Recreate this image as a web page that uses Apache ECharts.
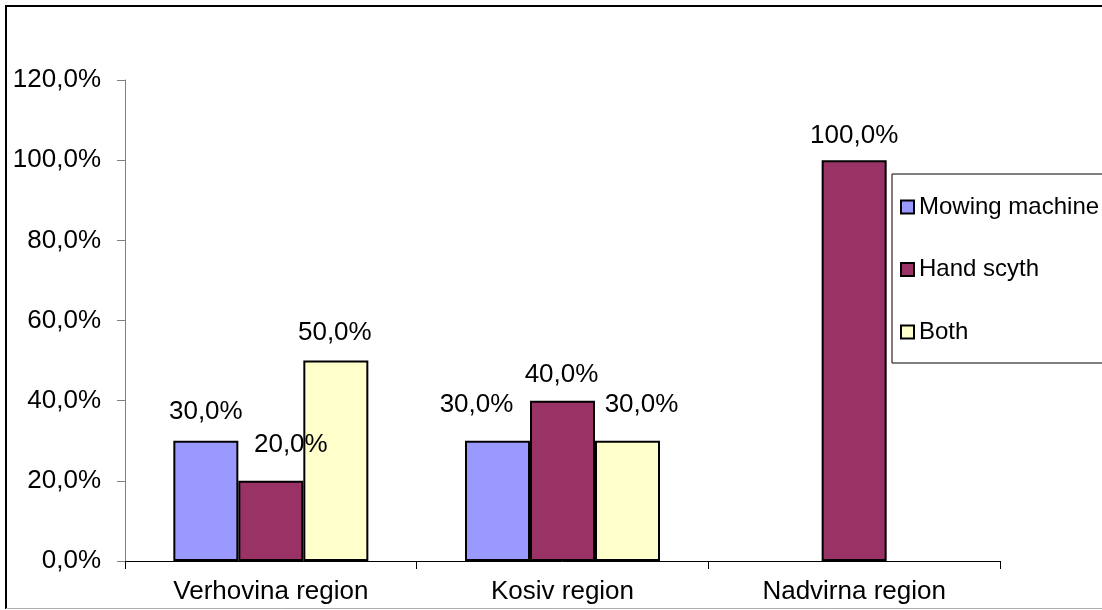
<!DOCTYPE html>
<html>
<head>
<meta charset="utf-8">
<title>Mowing methods by region</title>
<script src="https://cdn.jsdelivr.net/npm/echarts@6/dist/echarts.min.js"></script>
<style>
  html, body { margin: 0; padding: 0; background: #fff; }
  #chart { width: 1102px; height: 610px; }
</style>
</head>
<body>
<div id="chart"></div>
<script>
// Share of households (%) using each mowing method, by region
const regions = ['Verhovina region', 'Kosiv region', 'Nadvirna region'];
const mowingMachine = [30, 30, null];
const handScyth = [20, 40, 100];
const both = [50, 30, null];
const yTicks = { min: 0, max: 120, step: 20 };

// label nudges [dx, dy] per series and region
const labelNudge = {
  'Mowing machine': [[0, -16], [-21, -23], [0, 0]],
  'Hand scyth': [[20, -23], [-1, -13], [0, -11]],
  'Both': [[-1, -15], [14, -23], [0, 0]]
};

const FONT = 'Liberation Sans, Arial, sans-serif';
const pct = v => v.toFixed(1).replace('.', ',') + '%';

function makeSeries(name, values, color) {
  return {
    name: name,
    type: 'bar',
    barWidth: 65,
    barGap: '0%',
    itemStyle: { color: color, borderColor: '#000', borderWidth: 2 },
    data: values.map((v, i) => ({
      value: v,
      label: {
        show: v !== null,
        position: 'top',
        distance: 0,
        offset: labelNudge[name][i],
        formatter: p => pct(p.value),
        color: '#000',
        fontFamily: FONT,
        fontSize: 26
      }
    }))
  };
}

const chart = echarts.init(document.getElementById('chart'), null, { renderer: 'canvas' });
chart.setOption({
  backgroundColor: '#fff',
  animation: false,
  grid: { left: 125, right: 102, top: 80, bottom: 49 },
  legend: {
    orient: 'vertical',
    left: 892,
    top: 174,
    padding: [21, 200, 19, 8],
    itemGap: 38.5,
    itemWidth: 13,
    itemHeight: 13,
    icon: 'rect',
    backgroundColor: '#fff',
    borderColor: '#000',
    borderWidth: 1,
    borderRadius: 0,
    textStyle: { color: '#000', fontFamily: FONT, fontSize: 24, lineHeight: 24 },
    data: ['Mowing machine', 'Hand scyth', 'Both']
  },
  xAxis: {
    type: 'category',
    data: regions,
    boundaryGap: true,
    axisLine: { lineStyle: { color: '#000', width: 1 } },
    axisTick: { show: true, length: 8, lineStyle: { color: '#000' } },
    axisLabel: { color: '#000', fontFamily: FONT, fontSize: 26, margin: 18 },
    splitLine: { show: false }
  },
  yAxis: {
    type: 'value',
    min: yTicks.min,
    max: yTicks.max,
    interval: yTicks.step,
    axisLine: { show: true, lineStyle: { color: '#808080', width: 1 } },
    axisTick: { show: true, length: 8, lineStyle: { color: '#808080' } },
    axisLabel: { color: '#000', fontFamily: FONT, fontSize: 26, margin: 24, formatter: v => pct(v) },
    splitLine: { show: false }
  },
  series: [
    makeSeries('Mowing machine', mowingMachine, '#9999FF'),
    makeSeries('Hand scyth', handScyth, '#993366'),
    makeSeries('Both', both, '#FFFFCC')
  ],
  graphic: [
    { type: 'line', shape: { x1: 5, y1: 6, x2: 1110, y2: 6 }, style: { stroke: '#000', lineWidth: 2 }, silent: true },
    { type: 'line', shape: { x1: 6, y1: 5, x2: 6, y2: 609 }, style: { stroke: '#000', lineWidth: 2 }, silent: true },
    { type: 'line', shape: { x1: 6, y1: 608.5, x2: 1110, y2: 608.5 }, style: { stroke: '#b0b0b0', lineWidth: 1 }, silent: true }
  ]
});
</script>
</body>
</html>
